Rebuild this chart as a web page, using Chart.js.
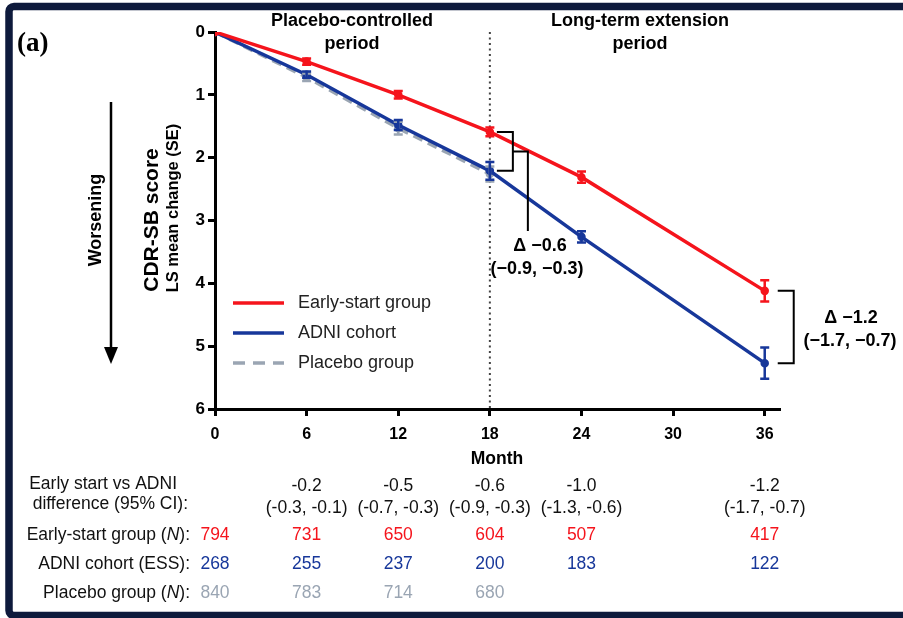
<!DOCTYPE html>
<html>
<head>
<meta charset="utf-8">
<script src="https://cdn.jsdelivr.net/npm/chart.js@4/dist/chart.umd.min.js"></script>
<style>
    body { margin: 0; background: #fff; }
    #wrap { position: relative; width: 903px; height: 618px; }
</style>
</head>
<body>
<div id="wrap"><canvas id="cdr-chart" width="903" height="618"></canvas></div>
<script>
// Chart values
const months = [0, 6, 12, 18, 24, 36];
const placeboMonths = [0, 6, 12, 18];
const xTicks = [0, 6, 12, 18, 24, 30, 36];
const yTicks = [0, 1, 2, 3, 4, 5, 6];

const earlyStart = [0, 0.47, 1.0, 1.59, 2.31, 4.12];
const earlyStartSE = [0, 0.05, 0.06, 0.07, 0.09, 0.17];
const adni = [0, 0.68, 1.48, 2.21, 3.26, 5.27];
const adniSE = [0, 0.05, 0.08, 0.14, 0.09, 0.25];
const placebo = [0, 0.72, 1.53, 2.26];
const placeboSE = [0, 0.06, 0.1, 0.12];

// Table under the axis
const diffMonths = [6, 12, 18, 24, 36];
const diffValues = ['-0.2', '-0.5', '-0.6', '-1.0', '-1.2'];
const diffCI = ['(-0.3, -0.1)', '(-0.7, -0.3)', '(-0.9, -0.3)', '(-1.3, -0.6)', '(-1.7, -0.7)'];
const nEarlyStart = [794, 731, 650, 604, 507, 417];
const nAdni = [268, 255, 237, 200, 183, 122];
const nPlacebo = [840, 783, 714, 680];

const RED = '#f5141c';
const BLUE = '#17379a';
const GREY = '#9aa5b3';
const FONT = '"Liberation Sans", Arial, sans-serif';
const TABLE_FONT = '17.5px ' + FONT;

function toPoints(xs, ys) {
    return xs.map((x, i) => ({ x: x, y: ys[i] }));
}

// Draw error bars for each dataset
const errorBarPlugin = {
    id: 'errorBars',
    afterDatasetsDraw(chart) {
        const ctx = chart.ctx;
        const xs = chart.scales.x;
        const ys = chart.scales.y;
        const sets = [
            { x: placeboMonths, y: placebo, se: placeboSE, color: GREY },
            { x: months, y: adni, se: adniSE, color: BLUE },
            { x: months, y: earlyStart, se: earlyStartSE, color: RED }
        ];
        ctx.save();
        ctx.lineWidth = 2.5;
        sets.forEach(s => {
            ctx.strokeStyle = s.color;
            s.x.forEach((m, i) => {
                if (!s.se[i]) return;
                const px = xs.getPixelForValue(m);
                const top = ys.getPixelForValue(s.y[i] - s.se[i]);
                const bot = ys.getPixelForValue(s.y[i] + s.se[i]);
                ctx.beginPath();
                ctx.moveTo(px, top); ctx.lineTo(px, bot);
                ctx.moveTo(px - 4.5, top); ctx.lineTo(px + 4.5, top);
                ctx.moveTo(px - 4.5, bot); ctx.lineTo(px + 4.5, bot);
                ctx.stroke();
            });
        });
        ctx.restore();
    }
};

// Frame, titles, annotations, legend and table
const decorPlugin = {
    id: 'decor',
    beforeDraw(chart) {
        const ctx = chart.ctx;
        const xs = chart.scales.x;
        const ys = chart.scales.y;
        ctx.save();
        ctx.fillStyle = '#fff';
        ctx.fillRect(0, 0, chart.width, chart.height);

        // dotted separator at month 18
        ctx.strokeStyle = '#444';
        ctx.lineWidth = 2;
        ctx.setLineDash([2, 3.5]);
        ctx.beginPath();
        ctx.moveTo(xs.getPixelForValue(18), ys.getPixelForValue(0));
        ctx.lineTo(xs.getPixelForValue(18), ys.getPixelForValue(6));
        ctx.stroke();
        ctx.restore();
    },
    afterDraw(chart) {
        const ctx = chart.ctx;
        const xs = chart.scales.x;
        const ys = chart.scales.y;
        ctx.save();

        // frame
        ctx.strokeStyle = '#0e1a3c';
        ctx.lineWidth = 7.5;
        ctx.beginPath();
        ctx.roundRect(9, 6.5, 920, 609, 5);
        ctx.stroke();

        ctx.fillStyle = '#000';
        ctx.textBaseline = 'middle';

        // panel label
        ctx.font = 'bold 27px "Liberation Serif", "Times New Roman", serif';
        ctx.textAlign = 'left';
        ctx.fillText('(a)', 17, 44);

        // period headings
        ctx.textAlign = 'center';
        ctx.font = 'bold 18px ' + FONT;
        ctx.fillText('Placebo-controlled', 352, 21);
        ctx.fillText('period', 352, 44);
        ctx.fillText('Long-term extension', 640, 21);
        ctx.fillText('period', 640, 44);

        // y titles
        ctx.save();
        ctx.translate(152, 220);
        ctx.rotate(-Math.PI / 2);
        ctx.font = 'bold 21px ' + FONT;
        ctx.fillText('CDR-SB score', 0, 0);
        ctx.restore();
        ctx.save();
        ctx.translate(173, 208);
        ctx.rotate(-Math.PI / 2);
        ctx.font = 'bold 16.5px ' + FONT;
        ctx.fillText('LS mean change (SE)', 0, 0);
        ctx.restore();
        ctx.save();
        ctx.translate(96, 220);
        ctx.rotate(-Math.PI / 2);
        ctx.font = 'bold 18px ' + FONT;
        ctx.fillText('Worsening', 0, 0);
        ctx.restore();

        // worsening arrow
        ctx.strokeStyle = '#000';
        ctx.lineWidth = 2.5;
        ctx.beginPath();
        ctx.moveTo(111, 102);
        ctx.lineTo(111, 352);
        ctx.stroke();
        ctx.beginPath();
        ctx.moveTo(104, 347);
        ctx.lineTo(118, 347);
        ctx.lineTo(111, 364);
        ctx.closePath();
        ctx.fill();

        // bracket at month 18
        const x18 = xs.getPixelForValue(18);
        const r18 = ys.getPixelForValue(earlyStart[3]);
        const b18 = ys.getPixelForValue(adni[3]);
        ctx.lineWidth = 2;
        ctx.beginPath();
        ctx.moveTo(x18 + 7, r18);
        ctx.lineTo(x18 + 23, r18);
        ctx.lineTo(x18 + 23, b18);
        ctx.lineTo(x18 + 7, b18);
        ctx.moveTo(x18 + 23, (r18 + b18) / 2);
        ctx.lineTo(x18 + 38, (r18 + b18) / 2);
        ctx.lineTo(x18 + 38, 231);
        ctx.stroke();

        // bracket at month 36
        const x36 = xs.getPixelForValue(36);
        const r36 = ys.getPixelForValue(earlyStart[5]);
        const b36 = ys.getPixelForValue(adni[5]);
        ctx.beginPath();
        ctx.moveTo(x36 + 13, r36);
        ctx.lineTo(x36 + 29, r36);
        ctx.lineTo(x36 + 29, b36);
        ctx.lineTo(x36 + 13, b36);
        ctx.stroke();

        ctx.font = 'bold 18px ' + FONT;
        ctx.fillText('\u0394 \u22120.6', 540, 246);
        ctx.fillText('(\u22120.9, \u22120.3)', 537, 269);
        ctx.fillText('\u0394 \u22121.2', 851, 318);
        ctx.fillText('(\u22121.7, \u22120.7)', 850, 341);

        // legend
        const legend = [
            { label: 'Early-start group', color: RED, dash: [] },
            { label: 'ADNI cohort', color: BLUE, dash: [] },
            { label: 'Placebo group', color: GREY, dash: [12, 8] }
        ];
        ctx.font = '18px ' + FONT;
        ctx.textAlign = 'left';
        legend.forEach((item, i) => {
            const y = 303 + i * 30;
            ctx.strokeStyle = item.color;
            ctx.lineWidth = 3.5;
            ctx.setLineDash(item.dash);
            ctx.beginPath();
            ctx.moveTo(233, y);
            ctx.lineTo(284, y);
            ctx.stroke();
            ctx.setLineDash([]);
            ctx.fillStyle = '#222';
            ctx.fillText(item.label, 298, y);
        });

        // x title
        ctx.fillStyle = '#000';
        ctx.textAlign = 'center';
        ctx.font = 'bold 17.5px ' + FONT;
        ctx.fillText('Month', 497, 459);

        // table
        const labelRight = 190;
        ctx.font = TABLE_FONT;
        ctx.textAlign = 'right';
        ctx.fillStyle = '#111';
        ctx.fillText('Early start vs ADNI', 177, 484);
        ctx.fillText('difference (95% CI):', 188, 504);
        drawLabelWithItalicN(ctx, 'Early-start group (', '):', labelRight, 535);
        ctx.textAlign = 'right';
        ctx.fillText('ADNI cohort (ESS):', labelRight, 564);
        drawLabelWithItalicN(ctx, 'Placebo group (', '):', labelRight, 593);

        ctx.textAlign = 'center';
        diffMonths.forEach((m, i) => {
            const px = xs.getPixelForValue(m);
            ctx.fillStyle = '#111';
            ctx.fillText(diffValues[i], px, 486);
            ctx.fillText(diffCI[i], px, 508);
        });
        months.forEach((m, i) => {
            const px = xs.getPixelForValue(m);
            ctx.fillStyle = RED;
            ctx.fillText(String(nEarlyStart[i]), px, 535);
            ctx.fillStyle = BLUE;
            ctx.fillText(String(nAdni[i]), px, 564);
        });
        placeboMonths.forEach((m, i) => {
            const px = xs.getPixelForValue(m);
            ctx.fillStyle = GREY;
            ctx.fillText(String(nPlacebo[i]), px, 593);
        });
        ctx.restore();
    }
};

// Right-aligned label with an italic N in the middle
function drawLabelWithItalicN(ctx, before, after, right, y) {
    const plain = TABLE_FONT;
    const italic = 'italic ' + TABLE_FONT;
    ctx.font = plain;
    const wBefore = ctx.measureText(before).width;
    const wAfter = ctx.measureText(after).width;
    ctx.font = italic;
    const wN = ctx.measureText('N').width;
    let x = right - wBefore - wN - wAfter;
    ctx.textAlign = 'left';
    ctx.font = plain;
    ctx.fillText(before, x, y);
    ctx.font = italic;
    ctx.fillText('N', x + wBefore, y);
    ctx.font = plain;
    ctx.fillText(after, x + wBefore + wN, y);
}

const ctx = document.getElementById('cdr-chart');
new Chart(ctx, {
    type: 'line',
    data: {
        datasets: [
            {
                label: 'Early-start group',
                data: toPoints(months, earlyStart),
                borderColor: RED,
                backgroundColor: RED,
                borderWidth: 3.5,
                pointRadius: 2.5,
                order: 0
            },
            {
                label: 'ADNI cohort',
                data: toPoints(months, adni),
                borderColor: BLUE,
                backgroundColor: BLUE,
                borderWidth: 3.5,
                pointRadius: 2.5,
                order: 1
            },
            {
                label: 'Placebo group',
                data: toPoints(placeboMonths, placebo),
                borderColor: GREY,
                backgroundColor: GREY,
                borderWidth: 3.5,
                borderDash: [10, 6],
                pointRadius: 2.5,
                order: 2
            }
        ]
    },
    options: {
        responsive: false,
        animation: false,
        layout: { padding: { left: 0, top: 32, right: 123, bottom: 0 } },
        plugins: {
            legend: { display: false },
            tooltip: { enabled: false }
        },
        scales: {
            x: {
                type: 'linear',
                min: 0,
                max: 37,
                afterBuildTicks: scale => { scale.ticks = xTicks.map(v => ({ value: v })); },
                afterFit: scale => { scale.height = 618 - 409; },
                grid: { drawOnChartArea: false, drawTicks: true, tickLength: 7, tickWidth: 3, tickColor: '#000' },
                border: { display: true, width: 3, color: '#000' },
                ticks: {
                    padding: 9,
                    color: '#000',
                    font: { family: FONT, size: 16, weight: 'bold' }
                }
            },
            y: {
                type: 'linear',
                reverse: true,
                min: 0,
                max: 6,
                afterBuildTicks: scale => { scale.ticks = yTicks.map(v => ({ value: v })); },
                afterFit: scale => { scale.width = 215; },
                grid: { drawOnChartArea: false, drawTicks: true, tickLength: 7, tickWidth: 3, tickColor: '#000' },
                border: { display: true, width: 3, color: '#000' },
                ticks: {
                    padding: 3,
                    color: '#000',
                    font: { family: FONT, size: 17, weight: 'bold' }
                }
            }
        }
    },
    plugins: [decorPlugin, errorBarPlugin]
});
</script>
</body>
</html>
